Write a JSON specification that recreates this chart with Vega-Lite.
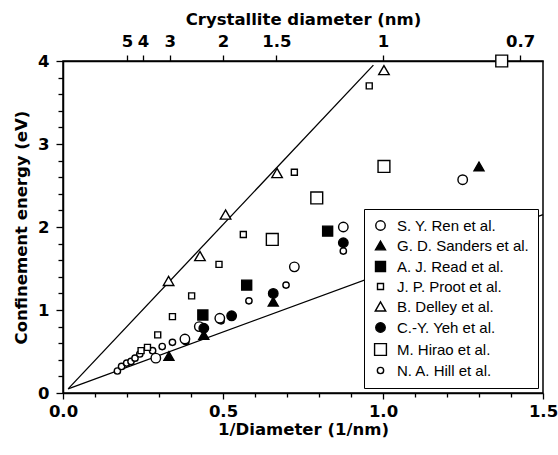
{
  "$schema": "https://vega.github.io/schema/vega-lite/v6.json",
  "width": 480,
  "height": 332,
  "autosize": {"type": "none"},
  "padding": {"left": 63, "top": 61, "right": 15, "bottom": 62},
  "background": "white",
  "config": {
    "view": {"stroke": "black", "strokeWidth": 1.5},
    "font": "DejaVu Sans",
    "axis": {
      "grid": false,
      "domainColor": "black",
      "domainWidth": 1.5,
      "tickColor": "black",
      "tickWidth": 1.3,
      "labelColor": "black",
      "titleColor": "black",
      "labelFont": "DejaVu Sans",
      "titleFont": "DejaVu Sans",
      "labelFontSize": 16.5,
      "labelFontWeight": "bold",
      "titleFontSize": 16.5,
      "titleFontWeight": "bold",
      "labelOverlap": false,
      "labelFlush": false
    }
  },
  "datasets": {
    "lines": [
      {"line": "upper", "x": 0.016, "y": 0.05},
      {"line": "upper", "x": 0.97, "y": 3.95},
      {"line": "lower", "x": 0.016, "y": 0.05},
      {"line": "lower", "x": 1.5, "y": 2.15}
    ],
    "pts": [
      {"s": "N. A. Hill et al.", "x": 0.17, "y": 0.265},
      {"s": "N. A. Hill et al.", "x": 0.183, "y": 0.32},
      {"s": "N. A. Hill et al.", "x": 0.199, "y": 0.36},
      {"s": "N. A. Hill et al.", "x": 0.2125, "y": 0.38},
      {"s": "N. A. Hill et al.", "x": 0.225, "y": 0.42},
      {"s": "N. A. Hill et al.", "x": 0.24, "y": 0.47},
      {"s": "N. A. Hill et al.", "x": 0.28, "y": 0.51},
      {"s": "N. A. Hill et al.", "x": 0.31, "y": 0.56},
      {"s": "N. A. Hill et al.", "x": 0.342, "y": 0.61},
      {"s": "N. A. Hill et al.", "x": 0.384, "y": 0.62},
      {"s": "N. A. Hill et al.", "x": 0.494, "y": 0.87},
      {"s": "N. A. Hill et al.", "x": 0.581, "y": 1.11},
      {"s": "N. A. Hill et al.", "x": 0.697, "y": 1.3},
      {"s": "N. A. Hill et al.", "x": 0.876, "y": 1.71},
      {"s": "S. Y. Ren et al.", "x": 0.29, "y": 0.42},
      {"s": "S. Y. Ren et al.", "x": 0.381, "y": 0.65},
      {"s": "S. Y. Ren et al.", "x": 0.426, "y": 0.8},
      {"s": "S. Y. Ren et al.", "x": 0.49, "y": 0.9},
      {"s": "S. Y. Ren et al.", "x": 0.723, "y": 1.52},
      {"s": "S. Y. Ren et al.", "x": 0.876, "y": 2.0},
      {"s": "S. Y. Ren et al.", "x": 1.249, "y": 2.57},
      {"s": "J. P. Proot et al.", "x": 0.244, "y": 0.51},
      {"s": "J. P. Proot et al.", "x": 0.264, "y": 0.55},
      {"s": "J. P. Proot et al.", "x": 0.296, "y": 0.7},
      {"s": "J. P. Proot et al.", "x": 0.342, "y": 0.92},
      {"s": "J. P. Proot et al.", "x": 0.402, "y": 1.17},
      {"s": "J. P. Proot et al.", "x": 0.4875, "y": 1.55},
      {"s": "J. P. Proot et al.", "x": 0.5635, "y": 1.91},
      {"s": "J. P. Proot et al.", "x": 0.723, "y": 2.66},
      {"s": "J. P. Proot et al.", "x": 0.957, "y": 3.7},
      {"s": "B. Delley et al.", "x": 0.33, "y": 1.35},
      {"s": "B. Delley et al.", "x": 0.428, "y": 1.65},
      {"s": "B. Delley et al.", "x": 0.508, "y": 2.15},
      {"s": "B. Delley et al.", "x": 0.669, "y": 2.65},
      {"s": "B. Delley et al.", "x": 1.003, "y": 3.89},
      {"s": "M. Hirao et al.", "x": 0.654, "y": 1.85},
      {"s": "M. Hirao et al.", "x": 0.793, "y": 2.35},
      {"s": "M. Hirao et al.", "x": 1.003, "y": 2.73},
      {"s": "M. Hirao et al.", "x": 1.371, "y": 4.0},
      {"s": "C.-Y. Yeh et al.", "x": 0.44, "y": 0.78},
      {"s": "C.-Y. Yeh et al.", "x": 0.527, "y": 0.93},
      {"s": "C.-Y. Yeh et al.", "x": 0.657, "y": 1.2},
      {"s": "C.-Y. Yeh et al.", "x": 0.876, "y": 1.81},
      {"s": "G. D. Sanders et al.", "x": 0.331, "y": 0.445},
      {"s": "G. D. Sanders et al.", "x": 0.44, "y": 0.7},
      {"s": "G. D. Sanders et al.", "x": 0.657, "y": 1.1},
      {"s": "G. D. Sanders et al.", "x": 1.3, "y": 2.73},
      {"s": "A. J. Read et al.", "x": 0.437, "y": 0.94},
      {"s": "A. J. Read et al.", "x": 0.574, "y": 1.3},
      {"s": "A. J. Read et al.", "x": 0.827, "y": 1.95}
    ]
  },
  "layer": [
    {
      "data": {"name": "lines"},
      "mark": {"type": "line", "color": "black", "strokeWidth": 1.3},
      "encoding": {
        "x": {
          "field": "x", "type": "quantitative",
          "scale": {"domain": [0, 1.5], "nice": false, "zero": false},
          "axis": {
            "orient": "bottom",
            "values": [0, 0.1, 0.2, 0.3, 0.4, 0.5, 0.6, 0.7, 0.8, 0.9, 1.0, 1.1, 1.2, 1.3, 1.4, 1.5],
            "labelExpr": "round(datum.value*10)%5==0 ? format(datum.value,'.1f') : ''",
            "tickSize": {"condition": {"test": "round(datum.value*10)%5==0", "value": 6}, "value": 4},
            "labelPadding": 4,
            "title": "1/Diameter (1/nm)",
            "titlePadding": 2
          }
        },
        "y": {
          "field": "y", "type": "quantitative",
          "scale": {"domain": [0, 4], "nice": false, "zero": false},
          "axis": {
            "orient": "left",
            "values": [0, 0.2, 0.4, 0.6, 0.8, 1, 1.2, 1.4, 1.6, 1.8, 2, 2.2, 2.4, 2.6, 2.8, 3, 3.2, 3.4, 3.6, 3.8, 4],
            "labelExpr": "round(datum.value*5)%5==0 ? format(datum.value,'d') : ''",
            "tickSize": {"condition": {"test": "round(datum.value*5)%5==0", "value": 7}, "value": 5},
            "labelPadding": 7,
            "title": "Confinement energy (eV)",
            "titlePadding": 8
          }
        },
        "detail": {"field": "line", "type": "nominal"}
      }
    },
    {
      "data": {"name": "pts"},
      "mark": {"type": "point", "filled": true, "strokeWidth": 1.4, "opacity": 1},
      "encoding": {
        "x": {"field": "x", "type": "quantitative", "scale": {"domain": [0, 1.5], "nice": false, "zero": false}, "axis": null},
        "y": {"field": "y", "type": "quantitative", "scale": {"domain": [0, 4], "nice": false, "zero": false}, "axis": null},
        "shape": {
          "field": "s", "type": "nominal",
          "scale": {
            "domain": ["S. Y. Ren et al.", "G. D. Sanders et al.", "A. J. Read et al.", "J. P. Proot et al.", "B. Delley et al.", "C.-Y. Yeh et al.", "M. Hirao et al.", "N. A. Hill et al."],
            "range": ["circle", "triangle-up", "square", "square", "triangle-up", "circle", "square", "circle"]
          },
          "legend": {
            "title": null, "orient": "none", "legendX": 301, "legendY": 148,
            "strokeColor": "black", "fillColor": "white", "padding": 9,
            "labelFont": "Liberation Sans", "labelFontSize": 15, "labelFontWeight": "normal", "labelColor": "black",
            "symbolStrokeWidth": 1.4, "rowPadding": 4, "labelOffset": 9
          }
        },
        "fill": {
          "field": "s", "type": "nominal",
          "scale": {
            "domain": ["S. Y. Ren et al.", "G. D. Sanders et al.", "A. J. Read et al.", "J. P. Proot et al.", "B. Delley et al.", "C.-Y. Yeh et al.", "M. Hirao et al.", "N. A. Hill et al."],
            "range": ["white", "black", "black", "white", "white", "black", "white", "white"]
          },
          "legend": {
            "title": null, "orient": "none", "legendX": 301, "legendY": 148,
            "strokeColor": "black", "fillColor": "white", "padding": 9,
            "labelFont": "Liberation Sans", "labelFontSize": 15, "labelFontWeight": "normal", "labelColor": "black",
            "symbolStrokeWidth": 1.4, "rowPadding": 4, "labelOffset": 9
          }
        },
        "stroke": {
          "field": "s", "type": "nominal",
          "scale": {
            "domain": ["S. Y. Ren et al.", "G. D. Sanders et al.", "A. J. Read et al.", "J. P. Proot et al.", "B. Delley et al.", "C.-Y. Yeh et al.", "M. Hirao et al.", "N. A. Hill et al."],
            "range": ["black", "black", "black", "black", "black", "black", "black", "black"]
          },
          "legend": {
            "title": null, "orient": "none", "legendX": 301, "legendY": 148,
            "strokeColor": "black", "fillColor": "white", "padding": 9,
            "labelFont": "Liberation Sans", "labelFontSize": 15, "labelFontWeight": "normal", "labelColor": "black",
            "symbolStrokeWidth": 1.4, "rowPadding": 4, "labelOffset": 9
          }
        },
        "size": {
          "field": "s", "type": "nominal",
          "scale": {
            "type": "ordinal",
            "domain": ["S. Y. Ren et al.", "G. D. Sanders et al.", "A. J. Read et al.", "J. P. Proot et al.", "B. Delley et al.", "C.-Y. Yeh et al.", "M. Hirao et al.", "N. A. Hill et al."],
            "range": [90, 100, 100, 36, 110, 90, 140, 40]
          },
          "legend": {
            "title": null, "orient": "none", "legendX": 301, "legendY": 148,
            "strokeColor": "black", "fillColor": "white", "padding": 9,
            "labelFont": "Liberation Sans", "labelFontSize": 15, "labelFontWeight": "normal", "labelColor": "black",
            "symbolStrokeWidth": 1.4, "rowPadding": 4, "labelOffset": 9
          }
        }
      }
    },
    {
      "data": {"name": "lines"},
      "mark": {"type": "point", "opacity": 0},
      "encoding": {
        "x": {
          "field": "x", "type": "quantitative",
          "scale": {"domain": [0, 1.5], "nice": false, "zero": false},
          "axis": {
            "orient": "top",
            "values": [0.2, 0.25, 0.3333, 0.5, 0.6667, 1, 1.4286],
            "labelExpr": "datum.value==0.2 ? '5' : datum.value==0.25 ? '4' : datum.value<0.34 ? '3' : datum.value==0.5 ? '2' : datum.value<0.7 ? '1.5' : datum.value==1 ? '1' : '0.7'",
            "tickSize": 6,
            "labelPadding": 6,
            "title": "Crystallite diameter (nm)",
            "titlePadding": 6
          }
        },
        "y": {"field": "y", "type": "quantitative", "scale": {"domain": [0, 4], "nice": false, "zero": false}, "axis": null}
      }
    }
  ],
  "resolve": {"axis": {"x": "independent", "y": "independent"}}
}
